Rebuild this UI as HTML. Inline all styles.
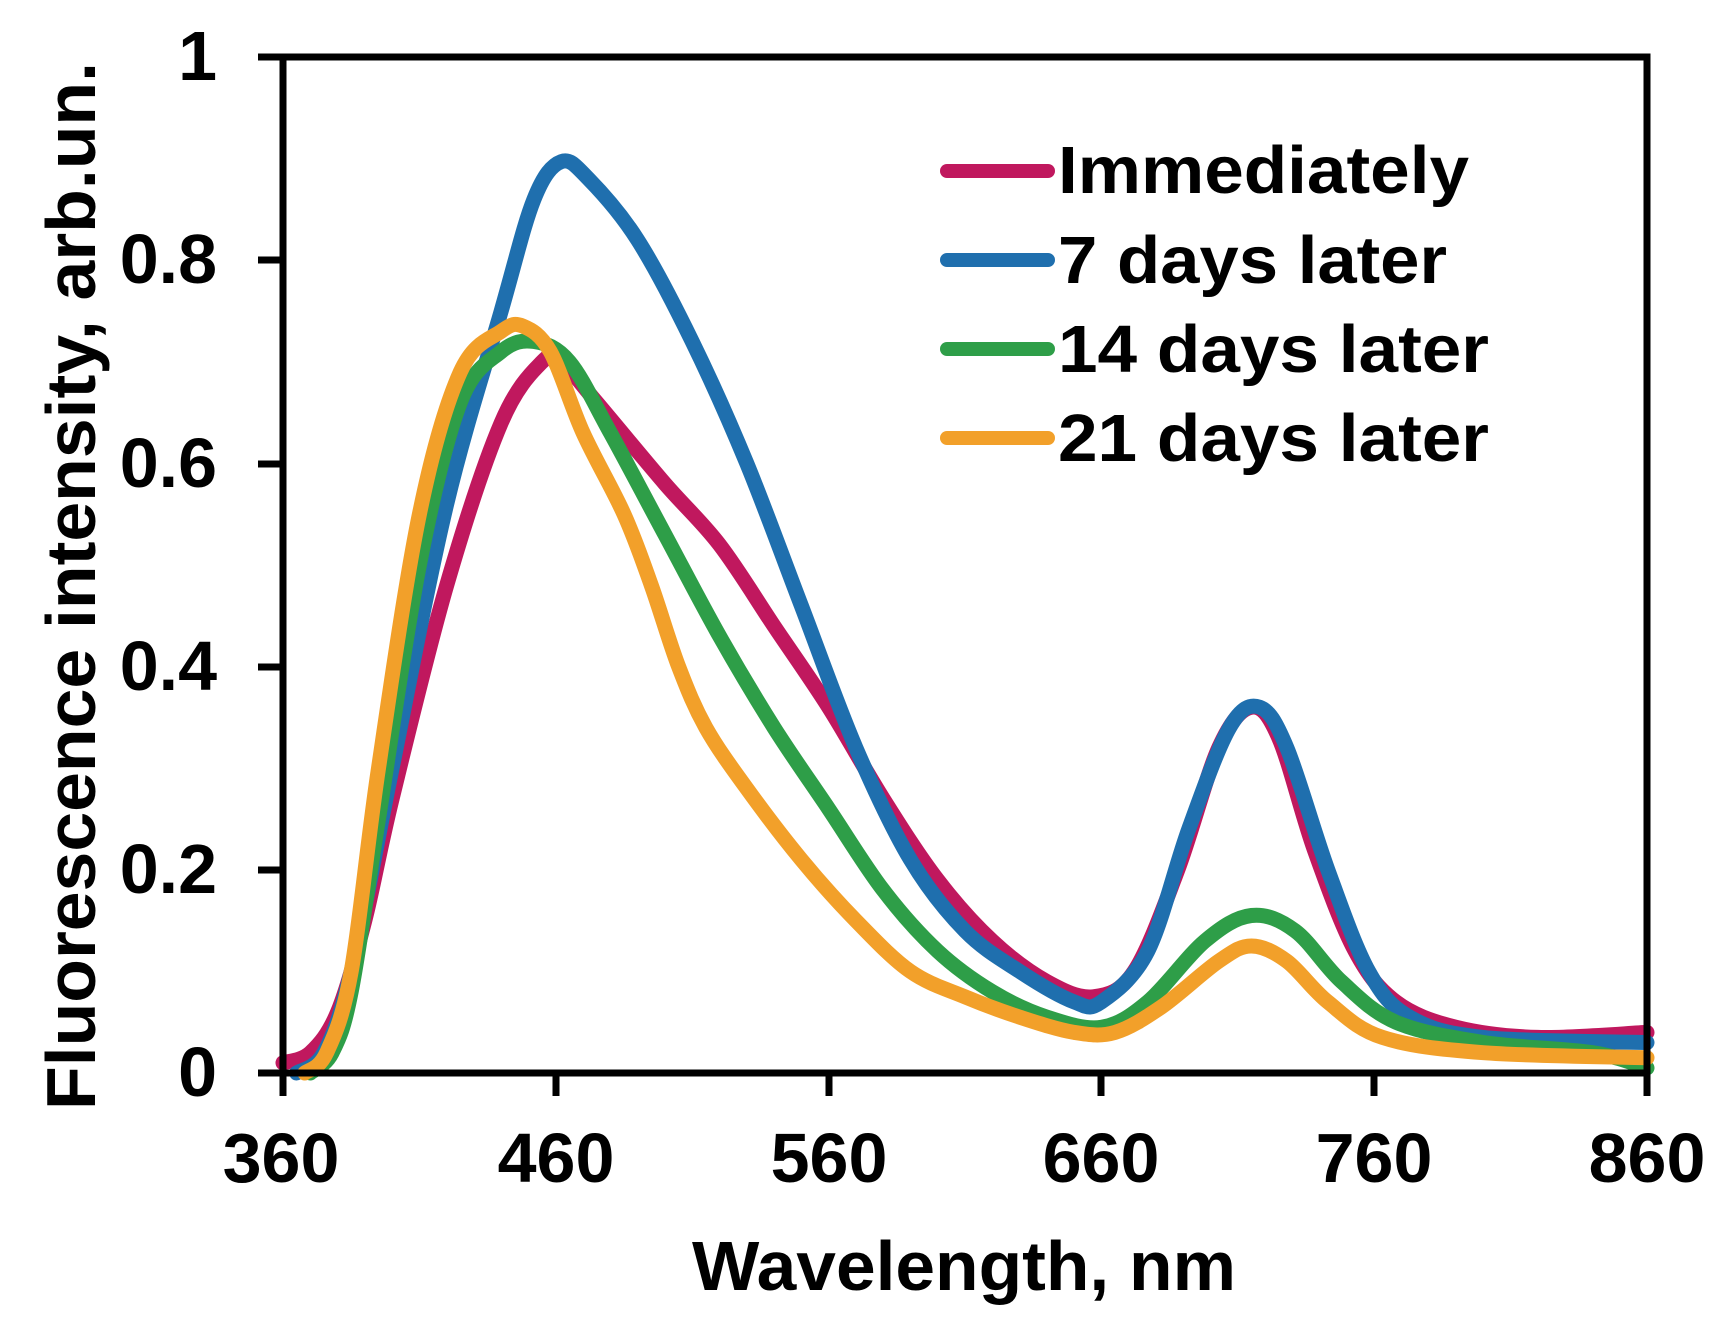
<!DOCTYPE html>
<html><head><meta charset="utf-8"><style>
html,body{margin:0;padding:0;background:#fff;}
svg{display:block;}
text{font-family:"Liberation Sans",Arial,sans-serif;font-weight:bold;fill:#000;}
</style></head><body>
<svg id="s" width="1720" height="1318" viewBox="0 0 1720 1318" xmlns="http://www.w3.org/2000/svg">
<rect width="1720" height="1318" fill="#fff"/>
<g id="curves" fill="none" stroke-width="15" stroke-linejoin="round" stroke-linecap="round"></g>
<g stroke="#000" stroke-width="7" fill="none">
<rect x="283" y="57" width="1364" height="1016"/>
<line x1="258" y1="57" x2="283" y2="57"/>
<line x1="258" y1="260" x2="283" y2="260"/>
<line x1="258" y1="464" x2="283" y2="464"/>
<line x1="258" y1="667" x2="283" y2="667"/>
<line x1="258" y1="870" x2="283" y2="870"/>
<line x1="258" y1="1073" x2="283" y2="1073"/>
<line x1="283" y1="1073" x2="283" y2="1096"/>
<line x1="556" y1="1073" x2="556" y2="1096"/>
<line x1="829" y1="1073" x2="829" y2="1096"/>
<line x1="1101" y1="1073" x2="1101" y2="1096"/>
<line x1="1374" y1="1073" x2="1374" y2="1096"/>
<line x1="1647" y1="1073" x2="1647" y2="1096"/>
</g>
<g font-size="70" text-anchor="end">
<text x="217" y="80">1</text>
<text x="217" y="283">0.8</text>
<text x="217" y="487">0.6</text>
<text x="217" y="690">0.4</text>
<text x="217" y="893">0.2</text>
<text x="217" y="1096">0</text>
</g>
<g font-size="70" text-anchor="middle">
<text x="281" y="1182">360</text>
<text x="556" y="1182">460</text>
<text x="829" y="1182">560</text>
<text x="1101" y="1182">660</text>
<text x="1374" y="1182">760</text>
<text x="1647" y="1182">860</text>
</g>
<text x="692" y="1290" font-size="70" textLength="544" lengthAdjust="spacingAndGlyphs">Wavelength, nm</text>
<text transform="translate(95,1110) rotate(-90)" font-size="70" textLength="1048" lengthAdjust="spacingAndGlyphs">Fluorescence intensity, arb.un.</text>
<g stroke-width="14" stroke-linecap="round">
<line x1="947" y1="171" x2="1048" y2="171" stroke="#c0185e"/>
<line x1="947" y1="260" x2="1048" y2="260" stroke="#1f6fae"/>
<line x1="947" y1="349" x2="1048" y2="349" stroke="#2e9e48"/>
<line x1="947" y1="438" x2="1048" y2="438" stroke="#f2a02a"/>
</g>
<g font-size="67">
<text x="1058" y="193" textLength="411" lengthAdjust="spacingAndGlyphs">Immediately</text>
<text x="1058" y="283" textLength="389" lengthAdjust="spacingAndGlyphs">7 days later</text>
<text x="1058" y="372" textLength="431" lengthAdjust="spacingAndGlyphs">14 days later</text>
<text x="1058" y="461" textLength="431" lengthAdjust="spacingAndGlyphs">21 days later</text>
</g>
</svg>
<script>
var series=[
["#c0185e",[[360,0.01],[370,0.02],[380,0.06],[390,0.15],[400,0.27],[420,0.48],[440,0.64],[455,0.70],[462,0.70],[475,0.66],[500,0.58],[520,0.52],[540,0.44],[560,0.36],[580,0.27],[600,0.19],[620,0.13],[640,0.09],[657,0.075],[672,0.10],[688,0.20],[703,0.32],[715,0.36],[725,0.33],[738,0.22],[753,0.12],[768,0.07],[790,0.045],[820,0.035],[860,0.04]]],
["#1f6fae",[[365,0],[375,0.02],[385,0.1],[400,0.3],[420,0.56],[440,0.75],[452,0.86],[462,0.897],[472,0.88],[490,0.82],[510,0.72],[530,0.60],[550,0.46],[570,0.32],[590,0.21],[610,0.14],[630,0.10],[650,0.07],[660,0.07],[677,0.12],[692,0.24],[707,0.34],[718,0.36],[728,0.32],[743,0.20],[758,0.10],[773,0.055],[800,0.035],[860,0.03]]],
["#2e9e48",[[370,0],[378,0.02],[385,0.08],[395,0.25],[410,0.50],[425,0.66],[440,0.71],[452,0.72],[465,0.70],[480,0.63],[500,0.53],[520,0.43],[540,0.34],[560,0.26],[580,0.18],[600,0.12],[620,0.08],[640,0.055],[660,0.045],[677,0.07],[698,0.13],[715,0.155],[731,0.14],[748,0.09],[768,0.05],[800,0.03],[840,0.02],[860,0.005]]],
["#f2a02a",[[368,0],[376,0.02],[385,0.1],[395,0.3],[410,0.55],[425,0.69],[440,0.73],[448,0.735],[458,0.71],[470,0.63],[485,0.55],[495,0.48],[505,0.40],[515,0.34],[530,0.28],[550,0.21],[570,0.15],[590,0.10],[610,0.075],[630,0.055],[650,0.04],[665,0.04],[682,0.065],[703,0.11],[715,0.125],[728,0.11],[743,0.07],[763,0.035],[800,0.02],[860,0.015]]]
];
var g=document.getElementById('curves');
function X(w){return 283+(w-360)*2.728;}
function Y(v){return 1073-v*1016;}
series.forEach(function(s){
 var p=s[1].map(function(q){return [X(q[0]),Y(q[1])];});
 var d="M"+p[0][0].toFixed(1)+","+p[0][1].toFixed(1);
 for(var i=0;i<p.length-1;i++){
  var p0=p[i-1]||p[i],p1=p[i],p2=p[i+1],p3=p[i+2]||p2;
  var c1=[p1[0]+(p2[0]-p0[0])/6,p1[1]+(p2[1]-p0[1])/6];
  var c2=[p2[0]-(p3[0]-p1[0])/6,p2[1]-(p3[1]-p1[1])/6];
  d+="C"+c1[0].toFixed(1)+","+c1[1].toFixed(1)+" "+c2[0].toFixed(1)+","+c2[1].toFixed(1)+" "+p2[0].toFixed(1)+","+p2[1].toFixed(1);
 }
 var e=document.createElementNS("http://www.w3.org/2000/svg","path");
 e.setAttribute("d",d);e.setAttribute("stroke",s[0]);
 g.appendChild(e);
});
</script>
</body></html>
